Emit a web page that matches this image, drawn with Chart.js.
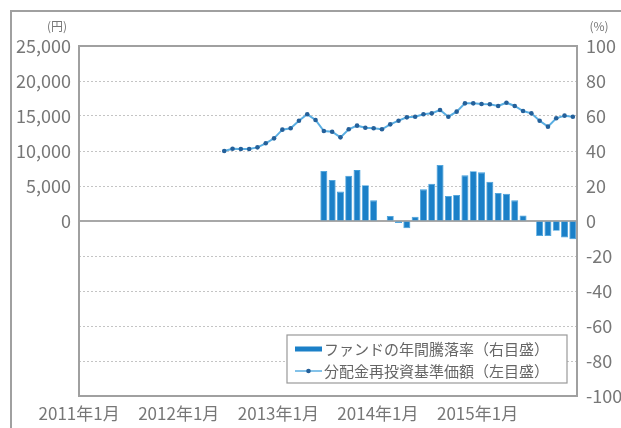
<!DOCTYPE html>
<html>
<head>
<meta charset="utf-8">
<script src="https://cdn.jsdelivr.net/npm/chart.js@4"></script>
<style>
  body { margin: 0; background: #fff; }
  #wrap { position: relative; width: 621px; height: 428px; overflow: hidden; }
  #frame { position: absolute; left: 10px; top: 10px; width: 700px; height: 500px; border: 2px solid #a0a0a0; }
  canvas { position: absolute; left: 0; top: 0; }
</style>
</head>
<body>
<div id="wrap">
  <div id="frame"></div>
  <canvas id="myChart" width="621" height="428"></canvas>
</div>
<script>
// months on the x-axis: 2011年1月 .. 2015年12月
var months = [];
for (var y = 2011; y <= 2015; y++) {
  for (var m = 1; m <= 12; m++) months.push(y + "年" + m + "月");
}
// 分配金再投資基準価額 (円), from 2012年6月
var navStart = "2012年6月";
var navValues = [10000, 10330, 10290, 10290, 10520, 11100, 11810, 13050, 13240, 14330,
  15240, 14430, 12860, 12760, 11950, 13100, 13620, 13330, 13240, 13100,
  13810, 14330, 14810, 14900, 15240, 15380, 15860, 14900, 15620, 16810,
  16810, 16710, 16670, 16430, 16900, 16430, 15710, 15380, 14330, 13480,
  14670, 15050, 14900];
// ファンドの年間騰落率 (%), from 2013年6月
var returnStart = "2013年6月";
var returnValues = [28.6, 23.4, 16.8, 25.9, 29.1, 20.4, 11.8, 0, 2.9, -1.2,
  -4.2, 2.5, 18.1, 21.3, 32, 14.3, 14.9, 26.1, 28.4, 27.8,
  22.5, 16, 15.6, 11.8, 3.2, 0, -8.6, -8.6, -5.6, -9.4, -10.4];
// axis ticks
var yenTicks = [0, 5000, 10000, 15000, 20000, 25000];
var pctMin = -100, pctMax = 100, pctStep = 20;

function pad(start, values) {
  var out = [];
  var i0 = months.indexOf(start);
  for (var i = 0; i < months.length; i++) {
    out.push(i >= i0 && i - i0 < values.length ? values[i - i0] : null);
  }
  return out;
}

var FONT = "'Noto Sans CJK JP', 'Noto Sans', sans-serif";
var GREY = "#777";

// plot frame, zero line, unit labels and the legend inside the plot
var decor = {
  id: 'decor',
  beforeDatasetsDraw: function(chart) {
    var ctx = chart.ctx, ca = chart.chartArea;
    var y0 = chart.scales.y1.getPixelForValue(0);
    ctx.save();
    ctx.strokeStyle = "#a8a8a8";
    ctx.lineWidth = 2;
    ctx.beginPath();
    ctx.moveTo(ca.left, y0);
    ctx.lineTo(ca.right, y0);
    ctx.stroke();
    ctx.restore();
  },
  afterDraw: function(chart) {
    var ctx = chart.ctx, ca = chart.chartArea;
    ctx.save();
    ctx.strokeStyle = "#a0a0a0";
    ctx.lineWidth = 2;
    ctx.strokeRect(ca.left, ca.top, ca.right - ca.left, ca.bottom - ca.top);

    ctx.fillStyle = GREY;
    ctx.font = "12px " + FONT;
    ctx.textAlign = "center";
    ctx.textBaseline = "middle";
    ctx.fillText("(円)", 57, 26);
    ctx.fillText("(%)", 599, 26);

    // legend
    var bx = ca.right - 290, by = ca.bottom - 61, bw = 280, bh = 48;
    ctx.fillStyle = "#fff";
    ctx.fillRect(bx, by, bw, bh);
    ctx.strokeStyle = "#999";
    ctx.lineWidth = 1.2;
    ctx.strokeRect(bx, by, bw, bh);
    var ds = chart.data.datasets;
    ctx.font = "15px " + FONT;
    ctx.textAlign = "left";
    ctx.fillStyle = "#666";
    // bar entry
    var r1 = by + 14, r2 = by + 36;
    ctx.fillStyle = ds[1].backgroundColor;
    ctx.fillRect(bx + 8, r1 - 2.5, 27, 5);
    ctx.fillStyle = "#666";
    ctx.fillText(ds[1].label, bx + 37, r1);
    // line entry
    ctx.strokeStyle = ds[0].borderColor;
    ctx.lineWidth = 1.5;
    ctx.beginPath();
    ctx.moveTo(bx + 8, r2);
    ctx.lineTo(bx + 35, r2);
    ctx.stroke();
    ctx.fillStyle = ds[0].pointBackgroundColor;
    ctx.beginPath();
    ctx.arc(bx + 21.5, r2, 2.3, 0, Math.PI * 2);
    ctx.fill();
    ctx.fillStyle = "#666";
    ctx.fillText(ds[0].label, bx + 37, r2);
    ctx.restore();
  }
};

var ctx = document.getElementById("myChart");
var myChart = new Chart(ctx, {
  data: {
    labels: months,
    datasets: [
      {
        type: 'line',
        label: "分配金再投資基準価額（左目盛）",
        data: pad(navStart, navValues),
        yAxisID: 'y',
        borderColor: "#5aaee2",
        borderWidth: 2,
        pointRadius: 2.3,
        pointBackgroundColor: "#24609a",
        pointBorderWidth: 0,
        tension: 0,
        order: 0
      },
      {
        type: 'bar',
        label: "ファンドの年間騰落率（右目盛）",
        data: pad(returnStart, returnValues),
        yAxisID: 'y1',
        backgroundColor: "#1b80c8",
        borderColor: "#3d9ddb",
        borderWidth: 0.8,
        barPercentage: 0.84,
        categoryPercentage: 1,
        order: 1
      }
    ]
  },
  options: {
    responsive: false,
    animation: false,
    layout: { padding: { top: 46, left: 0, right: 0, bottom: 0 } },
    plugins: { legend: { display: false }, tooltip: { enabled: false } },
    scales: {
      x: {
        type: 'category',
        offset: true,
        grid: { display: false, drawTicks: false },
        border: { display: false },
        ticks: {
          autoSkip: false,
          maxRotation: 0,
          minRotation: 0,
          padding: 7,
          labelOffset: -4,
          color: GREY,
          font: { family: FONT, size: 17 },
          callback: function(v, i) {
            var s = months[i];
            return s.slice(4) === "年1月" ? s : "";
          }
        },
        afterFit: function(s) { s.height = 32; }
      },
      y: {
        position: 'left',
        min: -25000,
        max: 25000,
        grid: { display: false, drawTicks: false },
        border: { display: false },
        ticks: {
          stepSize: 5000,
          padding: 8,
          color: GREY,
          font: { family: FONT, size: 18 },
          callback: function(v) {
            return yenTicks.indexOf(v) >= 0 ? v.toLocaleString('en-US') : '';
          }
        },
        afterFit: function(s) { s.width = 79; }
      },
      y1: {
        position: 'right',
        min: pctMin,
        max: pctMax,
        grid: { color: "#c4c4c4", lineWidth: 1, drawTicks: false },
        border: { display: false, dash: [2, 2] },
        ticks: {
          stepSize: pctStep,
          padding: 9,
          color: GREY,
          font: { family: FONT, size: 18 }
        },
        afterFit: function(s) { s.width = 44; }
      }
    }
  },
  plugins: [decor]
});
</script>
</body>
</html>
